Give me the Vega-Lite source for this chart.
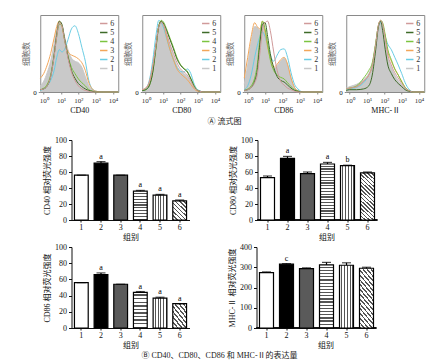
{
"$schema":"https://vega.github.io/schema/vega-lite/v6.json",
"background":"white",
"padding":{"left":22,"top":14,"right":2,"bottom":2},
"datasets":{
"hist":[
{"m":"CD40","x":-0.2,"1":8,"2":2,"3":18,"4":3,"5":3,"6":3},
{"m":"CD40","x":0,"1":14,"2":4,"3":24,"4":5,"5":4,"6":4},
{"m":"CD40","x":0.2,"1":25,"2":8,"3":35,"4":10,"5":8,"6":8},
{"m":"CD40","x":0.4,"1":40,"2":15,"3":50,"4":22,"5":20,"6":20},
{"m":"CD40","x":0.6,"1":62,"2":28,"3":70,"4":48,"5":48,"6":46},
{"m":"CD40","x":0.75,"1":80,"2":45,"3":85,"4":72,"5":75,"6":72},
{"m":"CD40","x":0.9,"1":90,"2":55,"3":92,"4":88,"5":92,"6":90},
{"m":"CD40","x":1.05,"1":86,"2":52,"3":85,"4":86,"5":88,"6":86},
{"m":"CD40","x":1.2,"1":72,"2":55,"3":68,"4":68,"5":70,"6":68},
{"m":"CD40","x":1.4,"1":55,"2":68,"3":52,"4":47,"5":46,"6":44},
{"m":"CD40","x":1.6,"1":44,"2":82,"3":48,"4":32,"5":28,"6":26},
{"m":"CD40","x":1.8,"1":40,"2":86,"3":46,"4":24,"5":18,"6":15},
{"m":"CD40","x":2.0,"1":38,"2":76,"3":43,"4":17,"5":11,"6":8},
{"m":"CD40","x":2.2,"1":32,"2":58,"3":38,"4":12,"5":7,"6":4},
{"m":"CD40","x":2.4,"1":20,"2":40,"3":28,"4":8,"5":4,"6":2},
{"m":"CD40","x":2.6,"1":8,"2":15,"3":12,"4":3,"5":2,"6":1},
{"m":"CD40","x":2.8,"1":3,"2":4,"3":4,"4":1,"5":1,"6":0},
{"m":"CD40","x":3.0,"1":1,"2":1,"3":1,"4":0,"5":0,"6":0},
{"m":"CD40","x":3.4,"1":0,"2":0,"3":0,"4":0,"5":0,"6":0},
{"m":"CD40","x":4.3,"1":0,"2":0,"3":0,"4":0,"5":0,"6":0},
{"m":"CD80","x":-0.2,"1":3,"2":2,"3":3,"4":2,"5":2,"6":3},
{"m":"CD80","x":0,"1":5,"2":4,"3":5,"4":3,"5":3,"6":5},
{"m":"CD80","x":0.2,"1":14,"2":14,"3":12,"4":8,"5":8,"6":12},
{"m":"CD80","x":0.4,"1":35,"2":40,"3":32,"4":25,"5":25,"6":32},
{"m":"CD80","x":0.6,"1":65,"2":75,"3":62,"4":58,"5":60,"6":62},
{"m":"CD80","x":0.75,"1":85,"2":93,"3":85,"4":85,"5":85,"6":85},
{"m":"CD80","x":0.9,"1":90,"2":90,"3":92,"4":93,"5":92,"6":90},
{"m":"CD80","x":1.05,"1":85,"2":82,"3":86,"4":90,"5":88,"6":86},
{"m":"CD80","x":1.2,"1":75,"2":70,"3":72,"4":82,"5":80,"6":76},
{"m":"CD80","x":1.4,"1":60,"2":55,"3":55,"4":70,"5":68,"6":62},
{"m":"CD80","x":1.6,"1":46,"2":42,"3":42,"4":58,"5":56,"6":50},
{"m":"CD80","x":1.8,"1":34,"2":32,"3":30,"4":45,"5":43,"6":38},
{"m":"CD80","x":2.0,"1":27,"2":27,"3":24,"4":36,"5":35,"6":30},
{"m":"CD80","x":2.2,"1":24,"2":26,"3":20,"4":31,"5":30,"6":26},
{"m":"CD80","x":2.4,"1":20,"2":30,"3":16,"4":27,"5":26,"6":22},
{"m":"CD80","x":2.6,"1":12,"2":24,"3":10,"4":18,"5":17,"6":14},
{"m":"CD80","x":2.8,"1":5,"2":10,"3":4,"4":8,"5":7,"6":6},
{"m":"CD80","x":3.0,"1":2,"2":3,"3":1,"4":2,"5":2,"6":2},
{"m":"CD80","x":3.4,"1":0,"2":0,"3":0,"4":0,"5":0,"6":0},
{"m":"CD80","x":4.3,"1":0,"2":0,"3":0,"4":0,"5":0,"6":0},
{"m":"CD86","x":-0.2,"1":10,"2":3,"3":18,"4":2,"5":2,"6":2},
{"m":"CD86","x":0,"1":35,"2":8,"3":45,"4":4,"5":3,"6":3},
{"m":"CD86","x":0.2,"1":65,"2":22,"3":72,"4":8,"5":6,"6":6},
{"m":"CD86","x":0.4,"1":85,"2":45,"3":90,"4":18,"5":14,"6":12},
{"m":"CD86","x":0.55,"1":84,"2":60,"3":85,"4":35,"5":28,"6":22},
{"m":"CD86","x":0.7,"1":80,"2":72,"3":82,"4":68,"5":62,"6":50},
{"m":"CD86","x":0.85,"1":90,"2":78,"3":92,"4":92,"5":88,"6":80},
{"m":"CD86","x":1.0,"1":80,"2":72,"3":78,"4":82,"5":90,"6":90},
{"m":"CD86","x":1.15,"1":62,"2":60,"3":58,"4":62,"5":72,"6":92},
{"m":"CD86","x":1.3,"1":45,"2":48,"3":45,"4":42,"5":50,"6":80},
{"m":"CD86","x":1.5,"1":30,"2":40,"3":32,"4":28,"5":32,"6":52},
{"m":"CD86","x":1.7,"1":34,"2":48,"3":36,"4":22,"5":20,"6":28},
{"m":"CD86","x":1.9,"1":40,"2":55,"3":42,"4":19,"5":15,"6":14},
{"m":"CD86","x":2.1,"1":44,"2":56,"3":45,"4":17,"5":13,"6":9},
{"m":"CD86","x":2.3,"1":35,"2":45,"3":36,"4":12,"5":9,"6":5},
{"m":"CD86","x":2.5,"1":18,"2":25,"3":18,"4":7,"5":5,"6":3},
{"m":"CD86","x":2.7,"1":6,"2":10,"3":6,"4":3,"5":2,"6":1},
{"m":"CD86","x":2.9,"1":2,"2":4,"3":1,"4":1,"5":1,"6":0},
{"m":"CD86","x":3.2,"1":0,"2":0,"3":0,"4":0,"5":0,"6":0},
{"m":"CD86","x":4.3,"1":0,"2":0,"3":0,"4":0,"5":0,"6":0},
{"m":"MHC","x":-0.2,"1":5,"2":3,"3":4,"4":4,"5":2,"6":4},
{"m":"MHC","x":0,"1":7,"2":4,"3":5,"4":5,"5":3,"6":5},
{"m":"MHC","x":0.4,"1":10,"2":6,"3":7,"4":8,"5":3,"6":7},
{"m":"MHC","x":0.8,"1":16,"2":12,"3":14,"4":18,"5":4,"6":14},
{"m":"MHC","x":1.1,"1":24,"2":22,"3":22,"4":28,"5":8,"6":22},
{"m":"MHC","x":1.3,"1":36,"2":34,"3":34,"4":38,"5":22,"6":34},
{"m":"MHC","x":1.5,"1":62,"2":62,"3":62,"4":64,"5":55,"6":62},
{"m":"MHC","x":1.65,"1":85,"2":85,"3":86,"4":86,"5":84,"6":86},
{"m":"MHC","x":1.78,"1":92,"2":90,"3":93,"4":93,"5":92,"6":93},
{"m":"MHC","x":1.9,"1":86,"2":86,"3":88,"4":90,"5":80,"6":88},
{"m":"MHC","x":2.05,"1":65,"2":72,"3":72,"4":74,"5":55,"6":68},
{"m":"MHC","x":2.2,"1":45,"2":62,"3":52,"4":55,"5":35,"6":48},
{"m":"MHC","x":2.4,"1":32,"2":55,"3":40,"4":42,"5":24,"6":35},
{"m":"MHC","x":2.6,"1":22,"2":45,"3":30,"4":30,"5":16,"6":25},
{"m":"MHC","x":2.8,"1":15,"2":35,"3":22,"4":22,"5":11,"6":18},
{"m":"MHC","x":3.0,"1":9,"2":24,"3":14,"4":13,"5":7,"6":11},
{"m":"MHC","x":3.2,"1":4,"2":12,"3":6,"4":6,"5":3,"6":5},
{"m":"MHC","x":3.4,"1":1,"2":4,"3":2,"4":2,"5":1,"6":2},
{"m":"MHC","x":3.7,"1":0,"2":0,"3":0,"4":0,"5":0,"6":0},
{"m":"MHC","x":4.3,"1":0,"2":0,"3":0,"4":0,"5":0,"6":0}
],
"bars":[
{"m":"CD40","g":"1","v":56,"hi":56,"lab":""},
{"m":"CD40","g":"2","v":71,"hi":73,"lab":"a"},
{"m":"CD40","g":"3","v":56,"hi":56,"lab":""},
{"m":"CD40","g":"4","v":36,"hi":37,"lab":"a"},
{"m":"CD40","g":"5","v":31,"hi":32,"lab":"a"},
{"m":"CD40","g":"6","v":24,"hi":25,"lab":"a"},
{"m":"CD80","g":"1","v":53,"hi":55,"lab":""},
{"m":"CD80","g":"2","v":77,"hi":79.5,"lab":"a"},
{"m":"CD80","g":"3","v":58,"hi":60,"lab":""},
{"m":"CD80","g":"4","v":70,"hi":72,"lab":"a"},
{"m":"CD80","g":"5","v":68,"hi":68.5,"lab":"b"},
{"m":"CD80","g":"6","v":59,"hi":60,"lab":""},
{"m":"CD86","g":"1","v":56,"hi":56,"lab":""},
{"m":"CD86","g":"2","v":66,"hi":68,"lab":"a"},
{"m":"CD86","g":"3","v":54,"hi":54,"lab":""},
{"m":"CD86","g":"4","v":44,"hi":45,"lab":"a"},
{"m":"CD86","g":"5","v":37,"hi":38,"lab":"a"},
{"m":"CD86","g":"6","v":30,"hi":30,"lab":"a"},
{"m":"MHC","g":"1","v":273,"hi":277,"lab":""},
{"m":"MHC","g":"2","v":315,"hi":318,"lab":"c"},
{"m":"MHC","g":"3","v":293,"hi":297,"lab":""},
{"m":"MHC","g":"4","v":312,"hi":324,"lab":""},
{"m":"MHC","g":"5","v":310,"hi":322,"lab":""},
{"m":"MHC","g":"6","v":295,"hi":300,"lab":""}
]
},
"config":{
"font":"Liberation Serif, Noto Sans CJK SC",
"view":{"stroke":null},
"axis":{"grid":false,"labelFont":"Liberation Serif, Noto Sans CJK SC","titleFont":"Liberation Serif, Noto Sans CJK SC","titleFontWeight":"normal","labelColor":"#111","titleColor":"#111","domainColor":"#111","tickColor":"#111","labelFontSize":8,"titleFontSize":8},
"legend":{"symbolType":"stroke","symbolStrokeWidth":1.5,"symbolSize":55,"labelFontSize":8,"labelFont":"Liberation Serif","rowPadding":0,"offset":4,"padding":0,"labelOffset":2,"labelColor":"#333"},
"title":{"font":"Liberation Serif, Noto Sans CJK SC","fontWeight":"normal","fontSize":8,"color":"#222"}
},
"spacing":10,
"center":true,
"vconcat":[
{"hconcat":[
{"width":78,"height":77,"view":{"stroke":"#8a8a8a"},"data":{"name":"hist"},
"transform":[{"filter":"datum.m==='CD40'"},{"fold":["1","2","3","4","5","6"],"as":["g","y"]}],
"encoding":{"x":{"field":"x","type":"quantitative","scale":{"domain":[-0.2,4.3],"nice":false,"zero":false},"axis":{"values":[0,1,2,3,4],"labelExpr":"'10' + ['⁰','¹','²','³','⁴'][datum.value]","title":"CD40","domain":false,"tickSize":2,"labelPadding":2,"labelFontSize":7,"titlePadding":3,"tickColor":"#888","labelColor":"#333"}},
"y":{"field":"y","type":"quantitative","scale":{"domain":[0,100],"nice":false},"axis":{"values":[0],"title":"细胞数","domain":false,"tickSize":2,"labelPadding":2,"labelFontSize":7,"titlePadding":2,"titleColor":"#666","tickColor":"#888"}}},
"layer":[
{"transform":[{"filter":"datum.g==='1'"}],"mark":{"type":"area","color":"#c9c9c9","interpolate":"monotone"}},
{"mark":{"type":"line","strokeWidth":1,"interpolate":"monotone"},"encoding":{"color":{"field":"g","type":"nominal","scale":{"domain":["6","5","4","3","2","1"],"range":["#d09a9a","#3e6b28","#7cc440","#f2a65a","#6acde4","#c8c8c8"]},"legend":{"orient":"top-right","title":null}}}}
]},
{"width":78,"height":77,"view":{"stroke":"#8a8a8a"},"data":{"name":"hist"},
"transform":[{"filter":"datum.m==='CD80'"},{"fold":["1","2","3","4","5","6"],"as":["g","y"]}],
"encoding":{"x":{"field":"x","type":"quantitative","scale":{"domain":[-0.2,4.3],"nice":false,"zero":false},"axis":{"values":[0,1,2,3,4],"labelExpr":"'10' + ['⁰','¹','²','³','⁴'][datum.value]","title":"CD80","domain":false,"tickSize":2,"labelPadding":2,"labelFontSize":7,"titlePadding":3,"tickColor":"#888","labelColor":"#333"}},
"y":{"field":"y","type":"quantitative","scale":{"domain":[0,100],"nice":false},"axis":{"values":[0],"title":"细胞数","domain":false,"tickSize":2,"labelPadding":2,"labelFontSize":7,"titlePadding":2,"titleColor":"#666","tickColor":"#888"}}},
"layer":[
{"transform":[{"filter":"datum.g==='1'"}],"mark":{"type":"area","color":"#c9c9c9","interpolate":"monotone"}},
{"mark":{"type":"line","strokeWidth":1,"interpolate":"monotone"},"encoding":{"color":{"field":"g","type":"nominal","scale":{"domain":["6","5","4","3","2","1"],"range":["#d09a9a","#3e6b28","#7cc440","#f2a65a","#6acde4","#c8c8c8"]},"legend":{"orient":"top-right","title":null}}}}
]},
{"width":78,"height":77,"view":{"stroke":"#8a8a8a"},"data":{"name":"hist"},
"transform":[{"filter":"datum.m==='CD86'"},{"fold":["1","2","3","4","5","6"],"as":["g","y"]}],
"encoding":{"x":{"field":"x","type":"quantitative","scale":{"domain":[-0.2,4.3],"nice":false,"zero":false},"axis":{"values":[0,1,2,3,4],"labelExpr":"'10' + ['⁰','¹','²','³','⁴'][datum.value]","title":"CD86","domain":false,"tickSize":2,"labelPadding":2,"labelFontSize":7,"titlePadding":3,"tickColor":"#888","labelColor":"#333"}},
"y":{"field":"y","type":"quantitative","scale":{"domain":[0,100],"nice":false},"axis":{"values":[0],"title":"细胞数","domain":false,"tickSize":2,"labelPadding":2,"labelFontSize":7,"titlePadding":2,"titleColor":"#666","tickColor":"#888"}}},
"layer":[
{"transform":[{"filter":"datum.g==='1'"}],"mark":{"type":"area","color":"#c9c9c9","interpolate":"monotone"}},
{"mark":{"type":"line","strokeWidth":1,"interpolate":"monotone"},"encoding":{"color":{"field":"g","type":"nominal","scale":{"domain":["6","5","4","3","2","1"],"range":["#d09a9a","#3e6b28","#7cc440","#f2a65a","#6acde4","#c8c8c8"]},"legend":{"orient":"top-right","title":null}}}}
]},
{"width":78,"height":77,"view":{"stroke":"#8a8a8a"},"data":{"name":"hist"},
"transform":[{"filter":"datum.m==='MHC'"},{"fold":["1","2","3","4","5","6"],"as":["g","y"]}],
"encoding":{"x":{"field":"x","type":"quantitative","scale":{"domain":[-0.2,4.3],"nice":false,"zero":false},"axis":{"values":[0,1,2,3,4],"labelExpr":"'10' + ['⁰','¹','²','³','⁴'][datum.value]","title":"MHC-Ⅱ","domain":false,"tickSize":2,"labelPadding":2,"labelFontSize":7,"titlePadding":3,"tickColor":"#888","labelColor":"#333"}},
"y":{"field":"y","type":"quantitative","scale":{"domain":[0,100],"nice":false},"axis":{"values":[0],"title":"细胞数","domain":false,"tickSize":2,"labelPadding":2,"labelFontSize":7,"titlePadding":2,"titleColor":"#666","tickColor":"#888"}}},
"layer":[
{"transform":[{"filter":"datum.g==='1'"}],"mark":{"type":"area","color":"#c9c9c9","interpolate":"monotone"}},
{"mark":{"type":"line","strokeWidth":1,"interpolate":"monotone"},"encoding":{"color":{"field":"g","type":"nominal","scale":{"domain":["6","5","4","3","2","1"],"range":["#d09a9a","#3e6b28","#7cc440","#f2a65a","#6acde4","#c8c8c8"]},"legend":{"orient":"top-right","title":null}}}}
]}
],"spacing":3,"resolve":{"scale":{"color":"independent"}},
"title":{"text":"Ⓐ 流式图","orient":"bottom","anchor":"middle","offset":3}},
{"vconcat":[
{"hconcat":[
{"width":118,"height":80,"data":{"name":"bars"},"transform":[{"filter":"datum.m==='CD40'"}],
"encoding":{"x":{"field":"g","type":"ordinal","scale":{"paddingInner":0.3,"paddingOuter":0.15},"axis":{"title":"组别","labelAngle":0,"tickSize":2,"labelPadding":1,"titlePadding":2}},
"y":{"field":"v","type":"quantitative","scale":{"domain":[0,100],"nice":false},"axis":{"values":[0,20,40,60,80,100],"title":"CD40 相对荧光强度","tickSize":3,"labelPadding":2,"titlePadding":3}}},
"layer":[
{"transform":[{"filter":"datum.g<='3'"}],"mark":{"type":"bar","stroke":"#000","strokeWidth":1.2},"encoding":{"fill":{"field":"g","type":"nominal","scale":{"domain":["1","2","3"],"range":["#ffffff","#000000","#5a5a5a"]},"legend":null}}},
{"transform":[{"filter":"datum.g==='4'"}],"mark":{"type":"bar","stroke":"#000","strokeWidth":1.2,"fill":{"gradient":"linear","x1":0,"y1":0,"x2":0,"y2":1,"stops":[
{"offset":0,"color":"#fff"},{"offset":0.06,"color":"#fff"},{"offset":0.06,"color":"#555"},{"offset":0.1,"color":"#555"},
{"offset":0.1,"color":"#fff"},{"offset":0.16,"color":"#fff"},{"offset":0.16,"color":"#555"},{"offset":0.2,"color":"#555"},
{"offset":0.2,"color":"#fff"},{"offset":0.26,"color":"#fff"},{"offset":0.26,"color":"#555"},{"offset":0.3,"color":"#555"},
{"offset":0.3,"color":"#fff"},{"offset":0.36,"color":"#fff"},{"offset":0.36,"color":"#555"},{"offset":0.4,"color":"#555"},
{"offset":0.4,"color":"#fff"},{"offset":0.46,"color":"#fff"},{"offset":0.46,"color":"#555"},{"offset":0.5,"color":"#555"},
{"offset":0.5,"color":"#fff"},{"offset":0.56,"color":"#fff"},{"offset":0.56,"color":"#555"},{"offset":0.6,"color":"#555"},
{"offset":0.6,"color":"#fff"},{"offset":0.66,"color":"#fff"},{"offset":0.66,"color":"#555"},{"offset":0.7,"color":"#555"},
{"offset":0.7,"color":"#fff"},{"offset":0.76,"color":"#fff"},{"offset":0.76,"color":"#555"},{"offset":0.8,"color":"#555"},
{"offset":0.8,"color":"#fff"},{"offset":0.86,"color":"#fff"},{"offset":0.86,"color":"#555"},{"offset":0.9,"color":"#555"},
{"offset":0.9,"color":"#fff"},{"offset":0.96,"color":"#fff"},{"offset":0.96,"color":"#555"},{"offset":1,"color":"#555"}]}}},
{"transform":[{"filter":"datum.g==='5'"}],"mark":{"type":"bar","stroke":"#000","strokeWidth":1.2,"fill":{"gradient":"linear","x1":0,"y1":0,"x2":1,"y2":0,"stops":[
{"offset":0,"color":"#fff"},{"offset":0.12,"color":"#fff"},{"offset":0.12,"color":"#555"},{"offset":0.2,"color":"#555"},
{"offset":0.2,"color":"#fff"},{"offset":0.32,"color":"#fff"},{"offset":0.32,"color":"#555"},{"offset":0.4,"color":"#555"},
{"offset":0.4,"color":"#fff"},{"offset":0.52,"color":"#fff"},{"offset":0.52,"color":"#555"},{"offset":0.6,"color":"#555"},
{"offset":0.6,"color":"#fff"},{"offset":0.72,"color":"#fff"},{"offset":0.72,"color":"#555"},{"offset":0.8,"color":"#555"},
{"offset":0.8,"color":"#fff"},{"offset":0.92,"color":"#fff"},{"offset":0.92,"color":"#555"},{"offset":1,"color":"#555"}]}}},
{"transform":[{"filter":"datum.g==='6'"}],"mark":{"type":"bar","stroke":"#000","strokeWidth":1.2,"fill":{"gradient":"linear","x1":1,"y1":0,"x2":0.2,"y2":1.141,"stops":[
{"offset":0,"color":"#fff"},{"offset":0.075,"color":"#fff"},{"offset":0.075,"color":"#555"},{"offset":0.125,"color":"#555"},
{"offset":0.125,"color":"#fff"},{"offset":0.2,"color":"#fff"},{"offset":0.2,"color":"#555"},{"offset":0.25,"color":"#555"},
{"offset":0.25,"color":"#fff"},{"offset":0.325,"color":"#fff"},{"offset":0.325,"color":"#555"},{"offset":0.375,"color":"#555"},
{"offset":0.375,"color":"#fff"},{"offset":0.45,"color":"#fff"},{"offset":0.45,"color":"#555"},{"offset":0.5,"color":"#555"},
{"offset":0.5,"color":"#fff"},{"offset":0.575,"color":"#fff"},{"offset":0.575,"color":"#555"},{"offset":0.625,"color":"#555"},
{"offset":0.625,"color":"#fff"},{"offset":0.7,"color":"#fff"},{"offset":0.7,"color":"#555"},{"offset":0.75,"color":"#555"},
{"offset":0.75,"color":"#fff"},{"offset":0.825,"color":"#fff"},{"offset":0.825,"color":"#555"},{"offset":0.875,"color":"#555"},
{"offset":0.875,"color":"#fff"},{"offset":0.95,"color":"#fff"},{"offset":0.95,"color":"#555"},{"offset":1,"color":"#555"}]}}},
{"mark":{"type":"rule","color":"#000","strokeWidth":1.2},"encoding":{"y2":{"field":"hi"}}},
{"mark":{"type":"tick","color":"#000","thickness":1.2,"size":9},"encoding":{"y":{"field":"hi","type":"quantitative"}}},
{"mark":{"type":"text","dy":-5,"fontSize":8,"color":"#000"},"encoding":{"y":{"field":"hi","type":"quantitative"},"text":{"field":"lab"}}}
]},
{"width":138,"height":80,"data":{"name":"bars"},"transform":[{"filter":"datum.m==='CD80'"}],
"encoding":{"x":{"field":"g","type":"ordinal","scale":{"paddingInner":0.3,"paddingOuter":0.6,"align":0.125},"axis":{"title":"组别","labelAngle":0,"tickSize":2,"labelPadding":1,"titlePadding":2,"domain":false}},
"y":{"field":"v","type":"quantitative","scale":{"domain":[0,100],"nice":false},"axis":{"values":[0,20,40,60,80,100],"title":"CD80 相对荧光强度","tickSize":3,"labelPadding":2,"titlePadding":3}}},
"layer":[
{"mark":{"type":"rule","color":"#111","strokeWidth":1},"encoding":{"x":{"datum":"1","bandPosition":-0.21},"x2":{"datum":"6","bandPosition":1.2},"y":{"datum":0}}},
{"transform":[{"filter":"datum.g<='3'"}],"mark":{"type":"bar","stroke":"#000","strokeWidth":1.2},"encoding":{"fill":{"field":"g","type":"nominal","scale":{"domain":["1","2","3"],"range":["#ffffff","#000000","#5a5a5a"]},"legend":null}}},
{"transform":[{"filter":"datum.g==='4'"}],"mark":{"type":"bar","stroke":"#000","strokeWidth":1.2,"fill":{"gradient":"linear","x1":0,"y1":0,"x2":0,"y2":1,"stops":[
{"offset":0,"color":"#fff"},{"offset":0.03,"color":"#fff"},{"offset":0.03,"color":"#555"},{"offset":0.05,"color":"#555"},
{"offset":0.05,"color":"#fff"},{"offset":0.08,"color":"#fff"},{"offset":0.08,"color":"#555"},{"offset":0.1,"color":"#555"},
{"offset":0.1,"color":"#fff"},{"offset":0.13,"color":"#fff"},{"offset":0.13,"color":"#555"},{"offset":0.15,"color":"#555"},
{"offset":0.15,"color":"#fff"},{"offset":0.18,"color":"#fff"},{"offset":0.18,"color":"#555"},{"offset":0.2,"color":"#555"},
{"offset":0.2,"color":"#fff"},{"offset":0.23,"color":"#fff"},{"offset":0.23,"color":"#555"},{"offset":0.25,"color":"#555"},
{"offset":0.25,"color":"#fff"},{"offset":0.28,"color":"#fff"},{"offset":0.28,"color":"#555"},{"offset":0.3,"color":"#555"},
{"offset":0.3,"color":"#fff"},{"offset":0.33,"color":"#fff"},{"offset":0.33,"color":"#555"},{"offset":0.35,"color":"#555"},
{"offset":0.35,"color":"#fff"},{"offset":0.38,"color":"#fff"},{"offset":0.38,"color":"#555"},{"offset":0.4,"color":"#555"},
{"offset":0.4,"color":"#fff"},{"offset":0.43,"color":"#fff"},{"offset":0.43,"color":"#555"},{"offset":0.45,"color":"#555"},
{"offset":0.45,"color":"#fff"},{"offset":0.48,"color":"#fff"},{"offset":0.48,"color":"#555"},{"offset":0.5,"color":"#555"},
{"offset":0.5,"color":"#fff"},{"offset":0.53,"color":"#fff"},{"offset":0.53,"color":"#555"},{"offset":0.55,"color":"#555"},
{"offset":0.55,"color":"#fff"},{"offset":0.58,"color":"#fff"},{"offset":0.58,"color":"#555"},{"offset":0.6,"color":"#555"},
{"offset":0.6,"color":"#fff"},{"offset":0.63,"color":"#fff"},{"offset":0.63,"color":"#555"},{"offset":0.65,"color":"#555"},
{"offset":0.65,"color":"#fff"},{"offset":0.68,"color":"#fff"},{"offset":0.68,"color":"#555"},{"offset":0.7,"color":"#555"},
{"offset":0.7,"color":"#fff"},{"offset":0.73,"color":"#fff"},{"offset":0.73,"color":"#555"},{"offset":0.75,"color":"#555"},
{"offset":0.75,"color":"#fff"},{"offset":0.78,"color":"#fff"},{"offset":0.78,"color":"#555"},{"offset":0.8,"color":"#555"},
{"offset":0.8,"color":"#fff"},{"offset":0.83,"color":"#fff"},{"offset":0.83,"color":"#555"},{"offset":0.85,"color":"#555"},
{"offset":0.85,"color":"#fff"},{"offset":0.88,"color":"#fff"},{"offset":0.88,"color":"#555"},{"offset":0.9,"color":"#555"},
{"offset":0.9,"color":"#fff"},{"offset":0.93,"color":"#fff"},{"offset":0.93,"color":"#555"},{"offset":0.95,"color":"#555"},
{"offset":0.95,"color":"#fff"},{"offset":0.98,"color":"#fff"},{"offset":0.98,"color":"#555"},{"offset":1,"color":"#555"}]}}},
{"transform":[{"filter":"datum.g==='5'"}],"mark":{"type":"bar","stroke":"#000","strokeWidth":1.2,"fill":{"gradient":"linear","x1":0,"y1":0,"x2":1,"y2":0,"stops":[
{"offset":0,"color":"#fff"},{"offset":0.12,"color":"#fff"},{"offset":0.12,"color":"#555"},{"offset":0.2,"color":"#555"},
{"offset":0.2,"color":"#fff"},{"offset":0.32,"color":"#fff"},{"offset":0.32,"color":"#555"},{"offset":0.4,"color":"#555"},
{"offset":0.4,"color":"#fff"},{"offset":0.52,"color":"#fff"},{"offset":0.52,"color":"#555"},{"offset":0.6,"color":"#555"},
{"offset":0.6,"color":"#fff"},{"offset":0.72,"color":"#fff"},{"offset":0.72,"color":"#555"},{"offset":0.8,"color":"#555"},
{"offset":0.8,"color":"#fff"},{"offset":0.92,"color":"#fff"},{"offset":0.92,"color":"#555"},{"offset":1,"color":"#555"}]}}},
{"transform":[{"filter":"datum.g==='6'"}],"mark":{"type":"bar","stroke":"#000","strokeWidth":1.2,"fill":{"gradient":"linear","x1":1,"y1":0,"x2":0.668,"y2":1.187,"stops":[
{"offset":0,"color":"#fff"},{"offset":0.0375,"color":"#fff"},{"offset":0.0375,"color":"#555"},{"offset":0.0625,"color":"#555"},
{"offset":0.0625,"color":"#fff"},{"offset":0.1,"color":"#fff"},{"offset":0.1,"color":"#555"},{"offset":0.125,"color":"#555"},
{"offset":0.125,"color":"#fff"},{"offset":0.1625,"color":"#fff"},{"offset":0.1625,"color":"#555"},{"offset":0.1875,"color":"#555"},
{"offset":0.1875,"color":"#fff"},{"offset":0.225,"color":"#fff"},{"offset":0.225,"color":"#555"},{"offset":0.25,"color":"#555"},
{"offset":0.25,"color":"#fff"},{"offset":0.2875,"color":"#fff"},{"offset":0.2875,"color":"#555"},{"offset":0.3125,"color":"#555"},
{"offset":0.3125,"color":"#fff"},{"offset":0.35,"color":"#fff"},{"offset":0.35,"color":"#555"},{"offset":0.375,"color":"#555"},
{"offset":0.375,"color":"#fff"},{"offset":0.4125,"color":"#fff"},{"offset":0.4125,"color":"#555"},{"offset":0.4375,"color":"#555"},
{"offset":0.4375,"color":"#fff"},{"offset":0.475,"color":"#fff"},{"offset":0.475,"color":"#555"},{"offset":0.5,"color":"#555"},
{"offset":0.5,"color":"#fff"},{"offset":0.5375,"color":"#fff"},{"offset":0.5375,"color":"#555"},{"offset":0.5625,"color":"#555"},
{"offset":0.5625,"color":"#fff"},{"offset":0.6,"color":"#fff"},{"offset":0.6,"color":"#555"},{"offset":0.625,"color":"#555"},
{"offset":0.625,"color":"#fff"},{"offset":0.6625,"color":"#fff"},{"offset":0.6625,"color":"#555"},{"offset":0.6875,"color":"#555"},
{"offset":0.6875,"color":"#fff"},{"offset":0.725,"color":"#fff"},{"offset":0.725,"color":"#555"},{"offset":0.75,"color":"#555"},
{"offset":0.75,"color":"#fff"},{"offset":0.7875,"color":"#fff"},{"offset":0.7875,"color":"#555"},{"offset":0.8125,"color":"#555"},
{"offset":0.8125,"color":"#fff"},{"offset":0.85,"color":"#fff"},{"offset":0.85,"color":"#555"},{"offset":0.875,"color":"#555"},
{"offset":0.875,"color":"#fff"},{"offset":0.9125,"color":"#fff"},{"offset":0.9125,"color":"#555"},{"offset":0.9375,"color":"#555"},
{"offset":0.9375,"color":"#fff"},{"offset":0.975,"color":"#fff"},{"offset":0.975,"color":"#555"},{"offset":1,"color":"#555"}]}}},
{"mark":{"type":"rule","color":"#000","strokeWidth":1.2},"encoding":{"y2":{"field":"hi"}}},
{"mark":{"type":"tick","color":"#000","thickness":1.2,"size":9},"encoding":{"y":{"field":"hi","type":"quantitative"}}},
{"mark":{"type":"text","dy":-5,"fontSize":8,"color":"#000"},"encoding":{"y":{"field":"hi","type":"quantitative"},"text":{"field":"lab"}}}
]}
],"spacing":39},
{"hconcat":[
{"width":118,"height":81,"data":{"name":"bars"},"transform":[{"filter":"datum.m==='CD86'"}],
"encoding":{"x":{"field":"g","type":"ordinal","scale":{"paddingInner":0.3,"paddingOuter":0.15},"axis":{"title":"组别","labelAngle":0,"tickSize":2,"labelPadding":1,"titlePadding":2}},
"y":{"field":"v","type":"quantitative","scale":{"domain":[0,100],"nice":false},"axis":{"values":[0,20,40,60,80,100],"title":"CD86 相对荧光强度","tickSize":3,"labelPadding":2,"titlePadding":3}}},
"layer":[
{"transform":[{"filter":"datum.g<='3'"}],"mark":{"type":"bar","stroke":"#000","strokeWidth":1.2},"encoding":{"fill":{"field":"g","type":"nominal","scale":{"domain":["1","2","3"],"range":["#ffffff","#000000","#5a5a5a"]},"legend":null}}},
{"transform":[{"filter":"datum.g==='4'"}],"mark":{"type":"bar","stroke":"#000","strokeWidth":1.2,"fill":{"gradient":"linear","x1":0,"y1":0,"x2":0,"y2":1,"stops":[
{"offset":0,"color":"#fff"},{"offset":0.06,"color":"#fff"},{"offset":0.06,"color":"#555"},{"offset":0.1,"color":"#555"},
{"offset":0.1,"color":"#fff"},{"offset":0.16,"color":"#fff"},{"offset":0.16,"color":"#555"},{"offset":0.2,"color":"#555"},
{"offset":0.2,"color":"#fff"},{"offset":0.26,"color":"#fff"},{"offset":0.26,"color":"#555"},{"offset":0.3,"color":"#555"},
{"offset":0.3,"color":"#fff"},{"offset":0.36,"color":"#fff"},{"offset":0.36,"color":"#555"},{"offset":0.4,"color":"#555"},
{"offset":0.4,"color":"#fff"},{"offset":0.46,"color":"#fff"},{"offset":0.46,"color":"#555"},{"offset":0.5,"color":"#555"},
{"offset":0.5,"color":"#fff"},{"offset":0.56,"color":"#fff"},{"offset":0.56,"color":"#555"},{"offset":0.6,"color":"#555"},
{"offset":0.6,"color":"#fff"},{"offset":0.66,"color":"#fff"},{"offset":0.66,"color":"#555"},{"offset":0.7,"color":"#555"},
{"offset":0.7,"color":"#fff"},{"offset":0.76,"color":"#fff"},{"offset":0.76,"color":"#555"},{"offset":0.8,"color":"#555"},
{"offset":0.8,"color":"#fff"},{"offset":0.86,"color":"#fff"},{"offset":0.86,"color":"#555"},{"offset":0.9,"color":"#555"},
{"offset":0.9,"color":"#fff"},{"offset":0.96,"color":"#fff"},{"offset":0.96,"color":"#555"},{"offset":1,"color":"#555"}]}}},
{"transform":[{"filter":"datum.g==='5'"}],"mark":{"type":"bar","stroke":"#000","strokeWidth":1.2,"fill":{"gradient":"linear","x1":0,"y1":0,"x2":1,"y2":0,"stops":[
{"offset":0,"color":"#fff"},{"offset":0.12,"color":"#fff"},{"offset":0.12,"color":"#555"},{"offset":0.2,"color":"#555"},
{"offset":0.2,"color":"#fff"},{"offset":0.32,"color":"#fff"},{"offset":0.32,"color":"#555"},{"offset":0.4,"color":"#555"},
{"offset":0.4,"color":"#fff"},{"offset":0.52,"color":"#fff"},{"offset":0.52,"color":"#555"},{"offset":0.6,"color":"#555"},
{"offset":0.6,"color":"#fff"},{"offset":0.72,"color":"#fff"},{"offset":0.72,"color":"#555"},{"offset":0.8,"color":"#555"},
{"offset":0.8,"color":"#fff"},{"offset":0.92,"color":"#fff"},{"offset":0.92,"color":"#555"},{"offset":1,"color":"#555"}]}}},
{"transform":[{"filter":"datum.g==='6'"}],"mark":{"type":"bar","stroke":"#000","strokeWidth":1.2,"fill":{"gradient":"linear","x1":1,"y1":0,"x2":0.2,"y2":1.141,"stops":[
{"offset":0,"color":"#fff"},{"offset":0.075,"color":"#fff"},{"offset":0.075,"color":"#555"},{"offset":0.125,"color":"#555"},
{"offset":0.125,"color":"#fff"},{"offset":0.2,"color":"#fff"},{"offset":0.2,"color":"#555"},{"offset":0.25,"color":"#555"},
{"offset":0.25,"color":"#fff"},{"offset":0.325,"color":"#fff"},{"offset":0.325,"color":"#555"},{"offset":0.375,"color":"#555"},
{"offset":0.375,"color":"#fff"},{"offset":0.45,"color":"#fff"},{"offset":0.45,"color":"#555"},{"offset":0.5,"color":"#555"},
{"offset":0.5,"color":"#fff"},{"offset":0.575,"color":"#fff"},{"offset":0.575,"color":"#555"},{"offset":0.625,"color":"#555"},
{"offset":0.625,"color":"#fff"},{"offset":0.7,"color":"#fff"},{"offset":0.7,"color":"#555"},{"offset":0.75,"color":"#555"},
{"offset":0.75,"color":"#fff"},{"offset":0.825,"color":"#fff"},{"offset":0.825,"color":"#555"},{"offset":0.875,"color":"#555"},
{"offset":0.875,"color":"#fff"},{"offset":0.95,"color":"#fff"},{"offset":0.95,"color":"#555"},{"offset":1,"color":"#555"}]}}},
{"mark":{"type":"rule","color":"#000","strokeWidth":1.2},"encoding":{"y2":{"field":"hi"}}},
{"mark":{"type":"tick","color":"#000","thickness":1.2,"size":9},"encoding":{"y":{"field":"hi","type":"quantitative"}}},
{"mark":{"type":"text","dy":-5,"fontSize":8,"color":"#000"},"encoding":{"y":{"field":"hi","type":"quantitative"},"text":{"field":"lab"}}}
]},
{"width":138,"height":81,"data":{"name":"bars"},"transform":[{"filter":"datum.m==='MHC'"}],
"encoding":{"x":{"field":"g","type":"ordinal","scale":{"paddingInner":0.3,"paddingOuter":0.6,"align":0.125},"axis":{"title":"组别","labelAngle":0,"tickSize":2,"labelPadding":1,"titlePadding":2,"domain":false}},
"y":{"field":"v","type":"quantitative","scale":{"domain":[0,400],"nice":false},"axis":{"values":[0,100,200,300,400],"title":"MHC-Ⅱ 相对荧光强度","tickSize":3,"labelPadding":2,"titlePadding":3}}},
"layer":[
{"mark":{"type":"rule","color":"#111","strokeWidth":1},"encoding":{"x":{"datum":"1","bandPosition":-0.21},"x2":{"datum":"6","bandPosition":1.2},"y":{"datum":0}}},
{"transform":[{"filter":"datum.g<='3'"}],"mark":{"type":"bar","stroke":"#000","strokeWidth":1.2},"encoding":{"fill":{"field":"g","type":"nominal","scale":{"domain":["1","2","3"],"range":["#ffffff","#000000","#5a5a5a"]},"legend":null}}},
{"transform":[{"filter":"datum.g==='4'"}],"mark":{"type":"bar","stroke":"#000","strokeWidth":1.2,"fill":{"gradient":"linear","x1":0,"y1":0,"x2":0,"y2":1,"stops":[
{"offset":0,"color":"#fff"},{"offset":0.03,"color":"#fff"},{"offset":0.03,"color":"#555"},{"offset":0.05,"color":"#555"},
{"offset":0.05,"color":"#fff"},{"offset":0.08,"color":"#fff"},{"offset":0.08,"color":"#555"},{"offset":0.1,"color":"#555"},
{"offset":0.1,"color":"#fff"},{"offset":0.13,"color":"#fff"},{"offset":0.13,"color":"#555"},{"offset":0.15,"color":"#555"},
{"offset":0.15,"color":"#fff"},{"offset":0.18,"color":"#fff"},{"offset":0.18,"color":"#555"},{"offset":0.2,"color":"#555"},
{"offset":0.2,"color":"#fff"},{"offset":0.23,"color":"#fff"},{"offset":0.23,"color":"#555"},{"offset":0.25,"color":"#555"},
{"offset":0.25,"color":"#fff"},{"offset":0.28,"color":"#fff"},{"offset":0.28,"color":"#555"},{"offset":0.3,"color":"#555"},
{"offset":0.3,"color":"#fff"},{"offset":0.33,"color":"#fff"},{"offset":0.33,"color":"#555"},{"offset":0.35,"color":"#555"},
{"offset":0.35,"color":"#fff"},{"offset":0.38,"color":"#fff"},{"offset":0.38,"color":"#555"},{"offset":0.4,"color":"#555"},
{"offset":0.4,"color":"#fff"},{"offset":0.43,"color":"#fff"},{"offset":0.43,"color":"#555"},{"offset":0.45,"color":"#555"},
{"offset":0.45,"color":"#fff"},{"offset":0.48,"color":"#fff"},{"offset":0.48,"color":"#555"},{"offset":0.5,"color":"#555"},
{"offset":0.5,"color":"#fff"},{"offset":0.53,"color":"#fff"},{"offset":0.53,"color":"#555"},{"offset":0.55,"color":"#555"},
{"offset":0.55,"color":"#fff"},{"offset":0.58,"color":"#fff"},{"offset":0.58,"color":"#555"},{"offset":0.6,"color":"#555"},
{"offset":0.6,"color":"#fff"},{"offset":0.63,"color":"#fff"},{"offset":0.63,"color":"#555"},{"offset":0.65,"color":"#555"},
{"offset":0.65,"color":"#fff"},{"offset":0.68,"color":"#fff"},{"offset":0.68,"color":"#555"},{"offset":0.7,"color":"#555"},
{"offset":0.7,"color":"#fff"},{"offset":0.73,"color":"#fff"},{"offset":0.73,"color":"#555"},{"offset":0.75,"color":"#555"},
{"offset":0.75,"color":"#fff"},{"offset":0.78,"color":"#fff"},{"offset":0.78,"color":"#555"},{"offset":0.8,"color":"#555"},
{"offset":0.8,"color":"#fff"},{"offset":0.83,"color":"#fff"},{"offset":0.83,"color":"#555"},{"offset":0.85,"color":"#555"},
{"offset":0.85,"color":"#fff"},{"offset":0.88,"color":"#fff"},{"offset":0.88,"color":"#555"},{"offset":0.9,"color":"#555"},
{"offset":0.9,"color":"#fff"},{"offset":0.93,"color":"#fff"},{"offset":0.93,"color":"#555"},{"offset":0.95,"color":"#555"},
{"offset":0.95,"color":"#fff"},{"offset":0.98,"color":"#fff"},{"offset":0.98,"color":"#555"},{"offset":1,"color":"#555"}]}}},
{"transform":[{"filter":"datum.g==='5'"}],"mark":{"type":"bar","stroke":"#000","strokeWidth":1.2,"fill":{"gradient":"linear","x1":0,"y1":0,"x2":1,"y2":0,"stops":[
{"offset":0,"color":"#fff"},{"offset":0.12,"color":"#fff"},{"offset":0.12,"color":"#555"},{"offset":0.2,"color":"#555"},
{"offset":0.2,"color":"#fff"},{"offset":0.32,"color":"#fff"},{"offset":0.32,"color":"#555"},{"offset":0.4,"color":"#555"},
{"offset":0.4,"color":"#fff"},{"offset":0.52,"color":"#fff"},{"offset":0.52,"color":"#555"},{"offset":0.6,"color":"#555"},
{"offset":0.6,"color":"#fff"},{"offset":0.72,"color":"#fff"},{"offset":0.72,"color":"#555"},{"offset":0.8,"color":"#555"},
{"offset":0.8,"color":"#fff"},{"offset":0.92,"color":"#fff"},{"offset":0.92,"color":"#555"},{"offset":1,"color":"#555"}]}}},
{"transform":[{"filter":"datum.g==='6'"}],"mark":{"type":"bar","stroke":"#000","strokeWidth":1.2,"fill":{"gradient":"linear","x1":1,"y1":0,"x2":0.668,"y2":1.187,"stops":[
{"offset":0,"color":"#fff"},{"offset":0.0375,"color":"#fff"},{"offset":0.0375,"color":"#555"},{"offset":0.0625,"color":"#555"},
{"offset":0.0625,"color":"#fff"},{"offset":0.1,"color":"#fff"},{"offset":0.1,"color":"#555"},{"offset":0.125,"color":"#555"},
{"offset":0.125,"color":"#fff"},{"offset":0.1625,"color":"#fff"},{"offset":0.1625,"color":"#555"},{"offset":0.1875,"color":"#555"},
{"offset":0.1875,"color":"#fff"},{"offset":0.225,"color":"#fff"},{"offset":0.225,"color":"#555"},{"offset":0.25,"color":"#555"},
{"offset":0.25,"color":"#fff"},{"offset":0.2875,"color":"#fff"},{"offset":0.2875,"color":"#555"},{"offset":0.3125,"color":"#555"},
{"offset":0.3125,"color":"#fff"},{"offset":0.35,"color":"#fff"},{"offset":0.35,"color":"#555"},{"offset":0.375,"color":"#555"},
{"offset":0.375,"color":"#fff"},{"offset":0.4125,"color":"#fff"},{"offset":0.4125,"color":"#555"},{"offset":0.4375,"color":"#555"},
{"offset":0.4375,"color":"#fff"},{"offset":0.475,"color":"#fff"},{"offset":0.475,"color":"#555"},{"offset":0.5,"color":"#555"},
{"offset":0.5,"color":"#fff"},{"offset":0.5375,"color":"#fff"},{"offset":0.5375,"color":"#555"},{"offset":0.5625,"color":"#555"},
{"offset":0.5625,"color":"#fff"},{"offset":0.6,"color":"#fff"},{"offset":0.6,"color":"#555"},{"offset":0.625,"color":"#555"},
{"offset":0.625,"color":"#fff"},{"offset":0.6625,"color":"#fff"},{"offset":0.6625,"color":"#555"},{"offset":0.6875,"color":"#555"},
{"offset":0.6875,"color":"#fff"},{"offset":0.725,"color":"#fff"},{"offset":0.725,"color":"#555"},{"offset":0.75,"color":"#555"},
{"offset":0.75,"color":"#fff"},{"offset":0.7875,"color":"#fff"},{"offset":0.7875,"color":"#555"},{"offset":0.8125,"color":"#555"},
{"offset":0.8125,"color":"#fff"},{"offset":0.85,"color":"#fff"},{"offset":0.85,"color":"#555"},{"offset":0.875,"color":"#555"},
{"offset":0.875,"color":"#fff"},{"offset":0.9125,"color":"#fff"},{"offset":0.9125,"color":"#555"},{"offset":0.9375,"color":"#555"},
{"offset":0.9375,"color":"#fff"},{"offset":0.975,"color":"#fff"},{"offset":0.975,"color":"#555"},{"offset":1,"color":"#555"}]}}},
{"mark":{"type":"rule","color":"#000","strokeWidth":1.2},"encoding":{"y2":{"field":"hi"}}},
{"mark":{"type":"tick","color":"#000","thickness":1.2,"size":9},"encoding":{"y":{"field":"hi","type":"quantitative"}}},
{"mark":{"type":"text","dy":-5,"fontSize":8,"color":"#000"},"encoding":{"y":{"field":"hi","type":"quantitative"},"text":{"field":"lab"}}}
]}
],"spacing":39}
],"spacing":2,
"title":{"text":"Ⓑ CD40、CD80、CD86 和 MHC-Ⅱ的表达量","orient":"bottom","anchor":"middle","offset":3}}
]
}
